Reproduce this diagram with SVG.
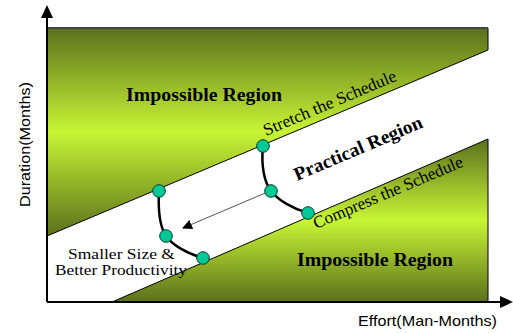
<svg xmlns="http://www.w3.org/2000/svg" width="513" height="333" viewBox="0 0 513 333">
<defs>
<linearGradient id="g" x1="0" y1="0" x2="0" y2="1">
<stop offset="0" stop-color="#5b701c"/>
<stop offset="0.5" stop-color="#c8f535"/>
<stop offset="1" stop-color="#5b701c"/>
</linearGradient>
<marker id="ah" viewBox="0 0 10 10" refX="9" refY="5" markerWidth="10" markerHeight="10" markerUnits="userSpaceOnUse" orient="auto">
<path d="M0,0 L10,5 L0,10 z" fill="#000"/>
</marker>
</defs>
<style>
.region{fill:url(#g);stroke:#000;stroke-width:1}
.lbl{font-family:"Liberation Serif","Times New Roman",serif;font-size:17px;fill:#000}
.sm{font-size:15px}
.big{font-family:"Liberation Serif","Times New Roman",serif;font-size:19px;font-weight:bold;fill:#000}
.ax{font-family:"Liberation Sans",Arial,sans-serif;font-size:15px;fill:#000}
.dot{fill:#00c896;stroke:#0b3a2c;stroke-width:1}
.curve{fill:none;stroke:#000;stroke-width:2.5}
</style>
<rect width="513" height="333" fill="#fff"/>
<g id="upper-region">
<polygon class="region" points="47,28 488,28 488,50 47,236"/>
<line x1="47" y1="28" x2="488" y2="28" stroke="#444" stroke-width="2"/>
<text class="big" x="126" y="101" textLength="156" lengthAdjust="spacingAndGlyphs">Impossible Region</text>
</g>
<g id="lower-region">
<polygon class="region" points="112,302 488,139 488,302"/>
<text class="big" x="297" y="266" textLength="156" lengthAdjust="spacingAndGlyphs">Impossible Region</text>
</g>
<g id="practical-region">
<text class="big" x="297" y="181" transform="rotate(-23 297 181)" textLength="138" lengthAdjust="spacingAndGlyphs">Practical Region</text>
</g>
<g id="axes">
<line x1="47" y1="302" x2="47" y2="16" stroke="#000" stroke-width="2"/>
<polygon points="47,5 41,18 53,18" fill="#000"/>
<line x1="47" y1="302" x2="502" y2="302" stroke="#000" stroke-width="2"/>
<polygon points="513,302 500,296 500,308" fill="#000"/>
<text class="ax" x="0" y="0" transform="translate(30 207) rotate(-90)" textLength="125" lengthAdjust="spacingAndGlyphs">Duration(Months)</text>
<text class="ax" x="358" y="326" textLength="139" lengthAdjust="spacingAndGlyphs">Effort(Man-Months)</text>
</g>
<g id="connectors">
<path class="curve" d="M263,146 C261,165 264,182 271,191 S293,209 308,213"/>
<path class="curve" d="M159,191 C158,210 160,227 166,236 S188,254 203,258"/>
<line x1="270" y1="191" x2="183" y2="228" stroke="#555" stroke-width="1" marker-end="url(#ah)"/>
</g>
<g id="labels">
<text class="lbl" x="266" y="136" transform="rotate(-23 266 136)" textLength="143" lengthAdjust="spacingAndGlyphs">Stretch the Schedule</text>
<text class="lbl" x="316" y="229" transform="rotate(-23 316 229)" textLength="161" lengthAdjust="spacingAndGlyphs">Compress the Schedule</text>
<text class="lbl sm" x="68" y="259" textLength="107" lengthAdjust="spacingAndGlyphs">Smaller Size &amp;</text>
<text class="lbl sm" x="55" y="275" textLength="132" lengthAdjust="spacingAndGlyphs">Better Productivity</text>
</g>
<g id="points">
<circle class="dot" cx="263" cy="146" r="6.3"/>
<circle class="dot" cx="271" cy="191" r="6.3"/>
<circle class="dot" cx="308" cy="213" r="6.3"/>
<circle class="dot" cx="159" cy="191" r="6.3"/>
<circle class="dot" cx="166" cy="236" r="6.3"/>
<circle class="dot" cx="203" cy="258" r="6.3"/>
</g>
</svg>
